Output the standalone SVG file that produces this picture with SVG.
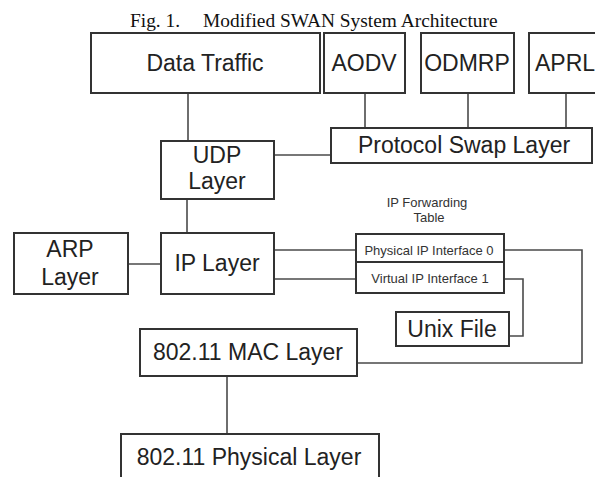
<svg xmlns="http://www.w3.org/2000/svg" width="595" height="477" viewBox="0 0 595 477">
  <style>
    .box { fill: #ffffff; stroke: #333333; stroke-width: 2; }
    .lbl { font-family: "Liberation Sans", Arial, sans-serif; font-size: 23px; fill: #222222; text-anchor: middle; }
    .sm { font-family: "Liberation Sans", Arial, sans-serif; font-size: 13px; fill: #333333; text-anchor: middle; }
    .title { font-family: "Liberation Serif", "Times New Roman", serif; font-size: 19.4px; fill: #111111; }
    .wire { fill: none; stroke: #4a4a4a; stroke-width: 1.6; }
  </style>
  <rect width="595" height="477" fill="#ffffff"/>

  <text class="title" x="130" y="27">Fig. 1.<tspan x="203">Modified SWAN System Architecture</tspan></text>

  <!-- connectors -->
  <g id="connectors">
    <line class="wire" x1="188" y1="93" x2="188" y2="141"/>
    <line class="wire" x1="365" y1="93" x2="365" y2="128"/>
    <line class="wire" x1="468" y1="93" x2="468" y2="128"/>
    <line class="wire" x1="566" y1="93" x2="566" y2="128"/>
    <line class="wire" x1="274" y1="155" x2="331" y2="155"/>
    <line class="wire" x1="187" y1="199" x2="187" y2="233"/>
    <line class="wire" x1="128" y1="264" x2="161" y2="264"/>
    <line class="wire" x1="274" y1="250" x2="356" y2="250"/>
    <line class="wire" x1="274" y1="279" x2="356" y2="279"/>
    <polyline class="wire" points="504,250 582,250 582,363 357,363"/>
    <polyline class="wire" points="504,279 523,279 523,336 509,336"/>
    <line class="wire" x1="227" y1="376" x2="227" y2="434"/>
  </g>

  <g id="data-traffic">
    <rect class="box" x="91" y="33" width="229" height="60"/>
    <text class="lbl" x="205" y="71">Data Traffic</text>
  </g>
  <g id="aodv">
    <rect class="box" x="324" y="33" width="81" height="60"/>
    <text class="lbl" x="364" y="71">AODV</text>
  </g>
  <g id="odmrp">
    <rect class="box" x="421" y="33" width="93" height="60"/>
    <text class="lbl" x="467" y="71">ODMRP</text>
  </g>
  <g id="aprl">
    <rect class="box" x="529" y="33" width="80" height="60"/>
    <text class="lbl" x="535" y="71" style="text-anchor:start">APRL</text>
  </g>
  <g id="protocol-swap">
    <rect class="box" x="331" y="128" width="261" height="35"/>
    <text class="lbl" x="464" y="153">Protocol Swap Layer</text>
  </g>
  <g id="udp">
    <rect class="box" x="161" y="141" width="113" height="58"/>
    <text class="lbl" x="217" y="163">UDP</text>
    <text class="lbl" x="217" y="189">Layer</text>
  </g>
  <g id="arp">
    <rect class="box" x="14" y="233" width="114" height="61"/>
    <text class="lbl" x="70" y="257">ARP</text>
    <text class="lbl" x="70" y="285">Layer</text>
  </g>
  <g id="ip">
    <rect class="box" x="161" y="233" width="113" height="61"/>
    <text class="lbl" x="217" y="271">IP Layer</text>
  </g>
  <g id="forwarding-table">
    <text class="sm" x="427" y="207">IP Forwarding</text>
    <text class="sm" x="429" y="222">Table</text>
    <rect class="box" x="356" y="234" width="148" height="59"/>
    <line x1="356" y1="262" x2="504" y2="262" stroke="#333333" stroke-width="2"/>
    <text class="sm" x="429" y="255">Physical IP Interface 0</text>
    <text class="sm" x="430" y="283">Virtual IP Interface 1</text>
  </g>
  <g id="unix-file">
    <rect class="box" x="396" y="312" width="113" height="34"/>
    <text class="lbl" x="452" y="337">Unix File</text>
  </g>
  <g id="mac">
    <rect class="box" x="140" y="329" width="217" height="47"/>
    <text class="lbl" x="248" y="360">802.11 MAC Layer</text>
  </g>
  <g id="phy">
    <rect class="box" x="121" y="434" width="258" height="50"/>
    <text class="lbl" x="249" y="465">802.11 Physical Layer</text>
  </g>
</svg>
